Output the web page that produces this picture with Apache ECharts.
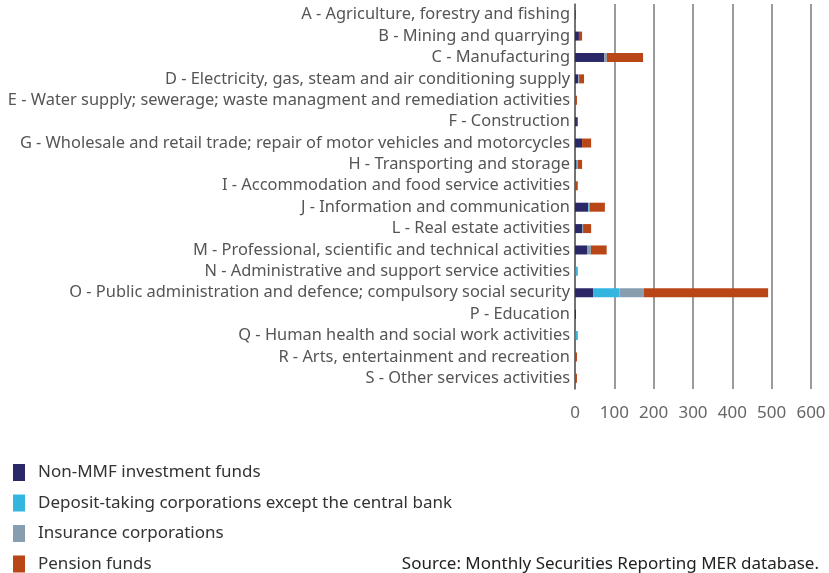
<!DOCTYPE html>
<html>
<head>
<meta charset="utf-8">
<script src="https://cdn.jsdelivr.net/npm/echarts@6/dist/echarts.min.js"></script>
<style>
  html, body { margin: 0; padding: 0; background: #fff; }
  #chart { width: 829px; height: 573px; }
</style>
</head>
<body>
<div id="chart"></div>
<script>
const categories = [
    'A - Agriculture, forestry and fishing',
    'B - Mining and quarrying',
    'C - Manufacturing',
    'D - Electricity, gas, steam and air conditioning supply',
    'E - Water supply; sewerage; waste managment and remediation activities',
    'F - Construction',
    'G - Wholesale and retail trade; repair of motor vehicles and motorcycles',
    'H - Transporting and storage',
    'I - Accommodation and food service activities',
    'J - Information and communication',
    'L - Real estate activities',
    'M - Professional, scientific and technical activities',
    'N - Administrative and support service activities',
    'O - Public administration and defence; compulsory social security',
    'P - Education',
    'Q - Human health and social work activities',
    'R - Arts, entertainment and recreation',
    'S - Other services activities'
];
const nonMmf    = [1.5, 10, 74, 8, 1, 5, 18, 4, 1, 33, 18, 30.5, 1, 46, 2.5, 1, 1, 1];
const deposit   = [0, 0, 0, 0, 0, 0, 0, 2.5, 0, 2, 0, 0, 4, 67, 0, 4, 0, 0];
const insurance = [0, 0, 7, 2.5, 0, 0, 0, 0.5, 0, 2, 2.5, 10, 0, 62, 0, 0, 0, 0];
const pension   = [0, 8, 92, 12.5, 4, 2.5, 23, 11, 6, 39, 20.5, 40, 1.5, 316, 0, 1.5, 4, 4];
const seriesNames = [
    'Non-MMF investment funds',
    'Deposit-taking corporations except the central bank',
    'Insurance corporations',
    'Pension funds'
];
const colors = ['#2b2868', '#32b6e0', '#879eb0', '#b94617'];
const xTicks = [0, 100, 200, 300, 400, 500, 600];

const myChart = echarts.init(document.getElementById('chart'));
const font = '"Noto Sans", sans-serif';
const seriesData = [nonMmf, deposit, insurance, pension];

const option = {
    animation: false,
    color: colors,
    textStyle: { fontFamily: font },
    grid: { left: 575, right: 18, top: 4, bottom: 184 },
    legend: {
        orient: 'vertical',
        left: 8,
        top: 459,
        height: 130,
        icon: 'rect',
        itemWidth: 12,
        itemHeight: 17,
        itemGap: 13.5,
        textStyle: { fontSize: 17, color: '#333', fontFamily: font, padding: [0, 0, 0, 8] },
        data: seriesNames
    },
    graphic: [{
        type: 'text',
        right: 10,
        top: 556,
        style: {
            text: 'Source: Monthly Securities Reporting MER database.',
            font: '17px ' + font,
            fill: '#222'
        }
    }],
    xAxis: {
        type: 'value',
        min: xTicks[0],
        max: xTicks[xTicks.length - 1],
        interval: 100,
        axisLine: { show: false },
        axisTick: { show: false },
        axisLabel: { fontSize: 17, color: '#666', margin: 16 },
        splitLine: { show: true, lineStyle: { color: '#7a7a7a', width: 1.5 } }
    },
    yAxis: {
        type: 'category',
        inverse: true,
        data: categories,
        axisLine: { show: true, lineStyle: { color: '#666', width: 1.5 } },
        axisTick: { show: false },
        axisLabel: { fontSize: 16.4, color: '#555', margin: 5 }
    },
    series: seriesNames.map(function (name, i) {
        return {
            name: name,
            type: 'bar',
            stack: 'total',
            barWidth: 9,
            data: seriesData[i]
        };
    })
};
myChart.setOption(option);
</script>
</body>
</html>
